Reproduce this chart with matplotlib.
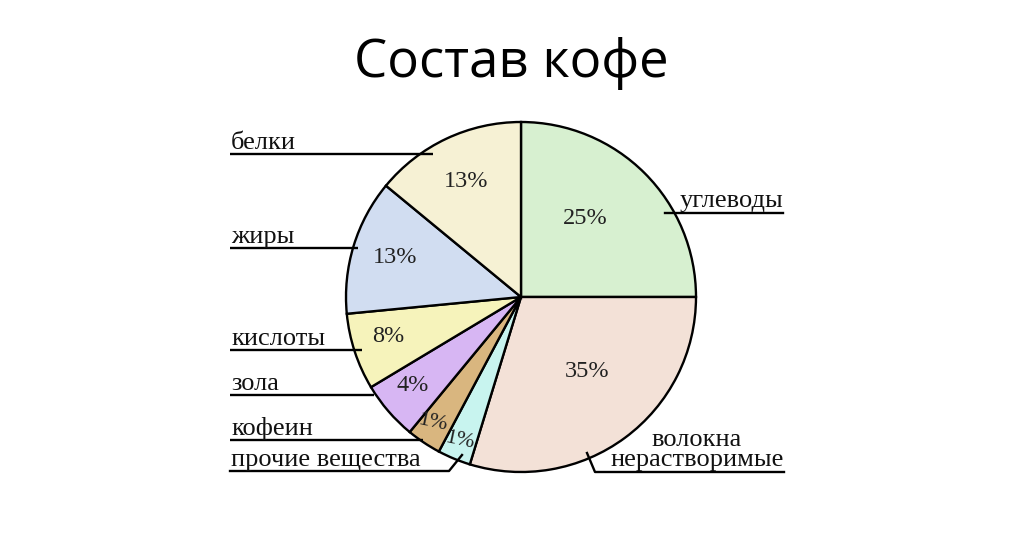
import numpy as np
import matplotlib
matplotlib.use("Agg")
import matplotlib.pyplot as plt

# composition of coffee (labels show the printed shares)
categories = ["углеводы", "волокна\nнерастворимые", "прочие вещества", "кофеин",
              "зола", "кислоты", "жиры", "белки"]
shares = [25, 35, 1, 1, 4, 8, 13, 13]
# angular size of each slice as drawn in the source picture (degrees)
drawn_sizes = [90, 107, 11, 11.5, 19.5, 25.5, 45, 50.5]
colors = ["#d7f0d0", "#f3e1d7", "#c8f4ef", "#d9b67f",
          "#d7b6f3", "#f6f3bb", "#d1ddf1", "#f6f1d4"]

W, H = 1024, 536
CX, CY, R = 521, 297, 175  # pie centre / radius in pixels (image coords)


def px(x, y):
    # image pixel coords (y down) -> axes coords (y up)
    return x, H - y


fig = plt.figure(figsize=(W / 100, H / 100), dpi=100)
fig.patch.set_facecolor("white")
ax = fig.add_axes([0, 0, 1, 1])

wedges, _ = ax.pie(
    drawn_sizes,
    colors=colors,
    startangle=90,
    counterclock=False,
    center=px(CX, CY),
    radius=R,
    wedgeprops=dict(edgecolor="black", linewidth=1.7),
    frame=True,
)
ax.set_xlim(0, W)
ax.set_ylim(0, H)
ax.set_aspect("equal")
ax.set_axis_off()

# percent labels inside slices
pct_radius = [0.58, 0.57, 0.89, 0.88, 0.80, 0.79, 0.755, 0.73]
pct_nudge = [6, 5, -0.6, -1.5, -1.5, -1.5, -0.6, 0]
pct_rot = [0, 0, -12, -12, 0, 0, 0, 0]
serif = ["Liberation Serif", "DejaVu Serif"]
for w, s, rf, nd, rot in zip(wedges, shares, pct_radius, pct_nudge, pct_rot):
    mid = np.deg2rad((w.theta1 + w.theta2) / 2 + nd)
    x = CX + rf * R * np.cos(mid)
    y = H - CY + rf * R * np.sin(mid)
    fs = 16 if s == 1 else 17.5
    ax.text(x, y, f"{s}%", ha="center", va="center", fontsize=fs,
            family=serif, rotation=rot, color="#222222", zorder=5)

# leader lines with labels (left side)
left_lines = {
    "белки": (154, 433),
    "жиры": (248, 358),
    "кислоты": (350, 362),
    "зола": (395, 374),
    "кофеин": (440, 423),
}
lw = 1.7
for name, (ly, xend) in left_lines.items():
    ax.plot([230, xend], [H - ly, H - ly], color="black", lw=lw, zorder=6,
            solid_capstyle="butt")
    ax.text(*px(231, ly - 5), name, ha="left", va="baseline", fontsize=19,
            family=serif, color="#111111", zorder=6)

# прочие вещества: horizontal then a short diagonal into the slice
ax.plot([230, 449, 462], [H - 471, H - 471, H - 455], color="black", lw=lw, zorder=6)
ax.text(*px(231, 466), categories[2], ha="left", va="baseline", fontsize=19,
        family=serif, color="#111111", zorder=6)

# right side
ax.plot([665, 783], [H - 213, H - 213], color="black", lw=lw, zorder=6)
ax.text(*px(783, 207), categories[0], ha="right", va="baseline", fontsize=19,
        family=serif, color="#111111", zorder=6)

ax.plot([587, 595, 784], [H - 453, H - 472, H - 472], color="black", lw=lw, zorder=6)
top_line, bottom_line = categories[1].split("\n")
ax.text(*px(697, 446), top_line, ha="center", va="baseline", fontsize=19,
        family=serif, color="#111111", zorder=6)
ax.text(*px(697, 466), bottom_line, ha="center", va="baseline", fontsize=19,
        family=serif, color="#111111", zorder=6)

# title
ax.text(*px(511, 77), "Состав кофе", ha="center", va="baseline", fontsize=38,
        family=["Open Sans", "DejaVu Sans"], color="black")

fig.savefig("out.png", dpi=100, facecolor="white")
